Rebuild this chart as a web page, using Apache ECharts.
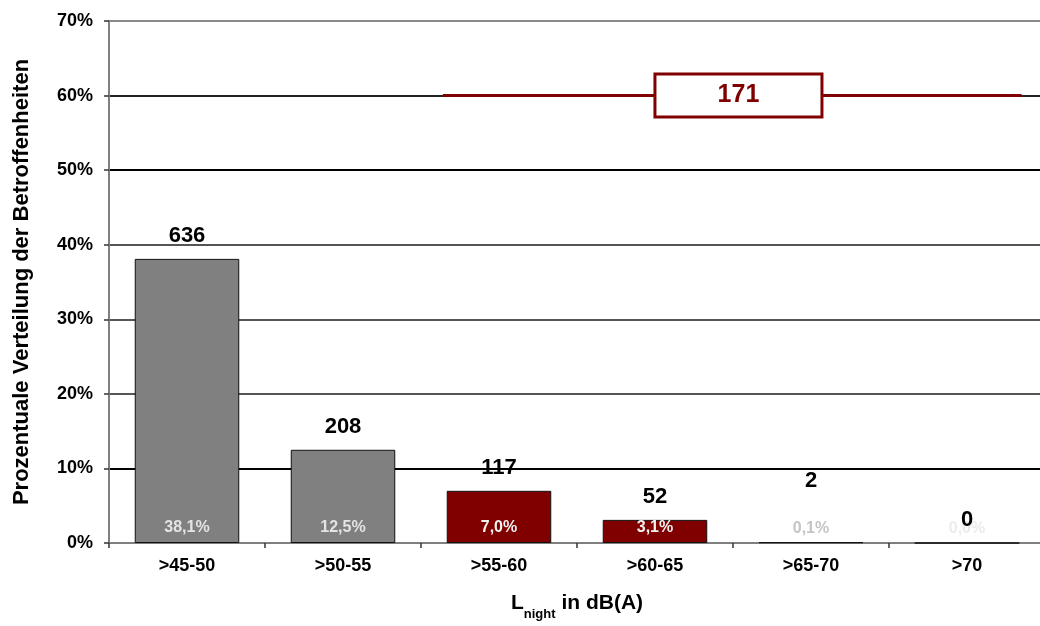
<!DOCTYPE html>
<html>
<head>
<meta charset="utf-8">
<script src="https://cdn.jsdelivr.net/npm/echarts@6/dist/echarts.min.js"></script>
<style>
  html, body { margin: 0; padding: 0; background: #fff; overflow: hidden; }
  #main { position: absolute; left: 0; top: 0; width: 1040px; height: 626px; }
</style>
</head>
<body>
<div id="main"></div>
<script>
// data
var categories = [">45-50", ">50-55", ">55-60", ">60-65", ">65-70", ">70"];
var shares = [38.1, 12.5, 7.0, 3.1, 0.1, 0.0];      // % of affected
var counts = [636, 208, 117, 52, 2, 0];              // absolute numbers
var yTicks = [0, 10, 20, 30, 40, 50, 60, 70];
// group bracket over the upper classes (>55 dB)
var groupFirst = 2;
var groupLast = 5;
var groupTotal = 171;
var groupLevel = 60;

var RED = "#800000";
var GREY = "#808080";
var barColors = [GREY, GREY, RED, RED, RED, RED];
var pctColors = ["#e4e4e4", "#e4e4e4", "#f2f2f2", "#f2f2f2", "#c4c4c4", "#ececec"];
var FONT = "Liberation Sans";

function pct(v) {
  return v.toFixed(1).replace(".", ",") + "%";
}

var chart = echarts.init(document.getElementById("main"));

// line ends just outside the outer bars
var lineStart = groupFirst + 0.5 - 0.36;
var lineEnd = groupLast + 0.5 + 0.35;

var option = {
  animation: false,
  textStyle: { fontFamily: FONT },
  grid: { left: 109, top: 21, height: 522, width: 936, outerBoundsMode: "none", containLabel: false },
  xAxis: [
    {
      type: "category",
      data: categories,
      axisLine: { lineStyle: { color: GREY, width: 2 } },
      axisTick: { show: true, interval: 0, length: 5, lineStyle: { color: "#333", width: 1.5 } },
      axisLabel: { color: "#000", fontSize: 18, fontWeight: "bold", margin: 14, fontFamily: FONT },
      name: "{l|L}{s|night}{t| in dB(A)}",
      nameLocation: "middle",
      nameGap: 50,
      nameTextStyle: {
        rich: {
          l: { fontSize: 21, fontWeight: "bold", color: "#000", fontFamily: FONT, verticalAlign: "bottom" },
          s: { fontSize: 13, fontWeight: "bold", color: "#000", fontFamily: FONT, verticalAlign: "bottom", padding: [0, 0, -7, 0] },
          t: { fontSize: 21, fontWeight: "bold", color: "#000", fontFamily: FONT, verticalAlign: "bottom" }
        }
      }
    },
    { type: "value", min: 0, max: categories.length, show: false }
  ],
  yAxis: {
    type: "value",
    min: yTicks[0],
    max: yTicks[yTicks.length - 1],
    interval: 10,
    axisLine: { show: true, lineStyle: { color: GREY, width: 2 } },
    axisTick: { show: true, length: 5, lineStyle: { color: "#333", width: 1.5 } },
    axisLabel: {
      color: "#000", fontSize: 18, fontWeight: "bold", margin: 16, fontFamily: FONT,
      formatter: function (v) { return v + "%"; }
    },
    splitLine: {
      show: true,
      lineStyle: {
        width: 2,
        color: [GREY, "#000", "#555", "#555", "#555", "#000", "#222", "#8a8a8a"]
      }
    },
    name: "Prozentuale Verteilung der Betroffenheiten",
    nameLocation: "middle",
    nameGap: 76,
    nameTextStyle: { fontSize: 22, fontWeight: "bold", color: "#000", fontFamily: FONT }
  },
  series: [
    {
      type: "bar",
      barWidth: "67%",
      data: shares.map(function (v, i) {
        return {
          value: v,
          itemStyle: { color: barColors[i], borderColor: "#111", borderWidth: 1 },
          label: { color: pctColors[i] }
        };
      }),
      label: {
        show: true,
        position: "insideBottom",
        distance: 7,
        fontSize: 16,
        fontWeight: "bold",
        fontFamily: FONT,
        formatter: function (p) { return pct(p.value); }
      },
      z: 2
    },
    {
      type: "bar",
      barWidth: "67%",
      barGap: "-100%",
      silent: true,
      itemStyle: { color: "rgba(0,0,0,0)" },
      data: shares.map(function (v, i) {
        var item = { value: v };
        if (i === 4) item.label = { offset: [0, -38] };
        return item;
      }),
      label: {
        show: true,
        position: "top",
        distance: 12,
        fontSize: 22,
        fontWeight: "bold",
        color: "#000",
        fontFamily: FONT,
        formatter: function (p) { return String(counts[p.dataIndex]); }
      },
      z: 3
    },
    {
      type: "line",
      xAxisIndex: 1,
      symbol: "none",
      lineStyle: { color: RED, width: 3 },
      data: [[lineStart, groupLevel], [lineEnd, groupLevel]],
      z: 4
    },
    {
      type: "scatter",
      xAxisIndex: 1,
      symbolSize: 0,
      itemStyle: { opacity: 1 },
      data: [[(lineStart + lineEnd) / 2 + 0.04, groupLevel]],
      label: {
        show: true,
        position: "inside",
        fontSize: 25,
        fontWeight: "bold",
        color: RED,
        fontFamily: FONT,
        backgroundColor: "#fff",
        borderColor: RED,
        borderWidth: 3,
        width: 164,
        height: 40,
        lineHeight: 40,
        align: "center",
        verticalAlign: "middle",
        formatter: function () { return String(groupTotal); }
      },
      z: 5
    }
  ]
};

chart.setOption(option);
</script>
</body>
</html>
